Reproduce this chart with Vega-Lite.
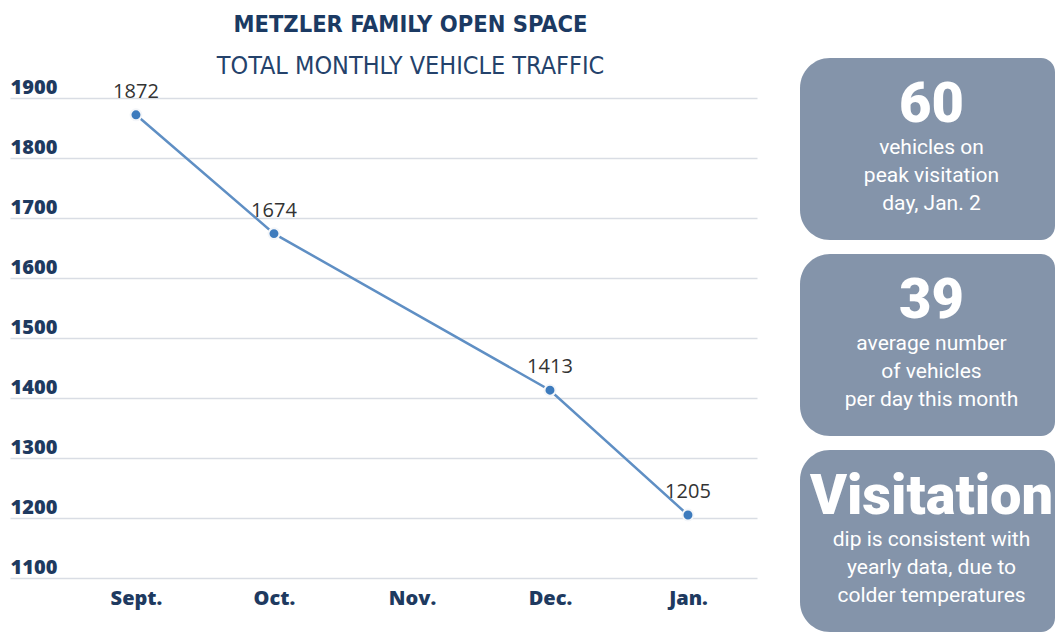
{
  "$schema": "https://vega.github.io/schema/vega-lite/v6.json",
  "padding": {"left": 10, "top": 12, "right": 0, "bottom": 0},
  "background": "white",
  "config": {"view": {"stroke": null}, "concat": {"spacing": 43}},
  "hconcat": [
    {
      "width": 747,
      "height": 520,
      "title": {
        "text": "METZLER FAMILY OPEN SPACE",
        "subtitle": "TOTAL MONTHLY VEHICLE TRAFFIC",
        "anchor": "middle",
        "dx": 27,
        "font": "DejaVu Sans Condensed",
        "fontSize": 23.5,
        "fontWeight": "bold",
        "color": "#1b3a63",
        "subtitleFont": "DejaVu Sans Condensed",
        "subtitleFontSize": 25,
        "subtitleFontWeight": "normal",
        "subtitleColor": "#24426b",
        "subtitlePadding": 18,
        "offset": -21
      },
      "data": {
        "values": [
          {"month": "Sept.", "traffic": 1872},
          {"month": "Oct.", "traffic": 1674},
          {"month": "Dec.", "traffic": 1413},
          {"month": "Jan.", "traffic": 1205}
        ]
      },
      "encoding": {
        "x": {
          "field": "month",
          "type": "ordinal",
          "sort": null,
          "scale": {"type": "point", "domain": ["Sept.", "Oct.", "Nov.", "Dec.", "Jan."], "padding": 0.7065, "align": 0.646},
          "axis": {
            "title": null, "domain": false, "ticks": false, "grid": false,
            "labelAngle": 0, "labelPadding": 10, "labelBaseline": "top",
            "labelFont": "Open Sans", "labelFontWeight": 800, "labelFontSize": 20, "labelColor": "#1e3a60"
          }
        },
        "y": {
          "field": "traffic",
          "type": "quantitative",
          "scale": {"domain": [1100, 1966.7], "nice": false, "zero": false},
          "axis": {
            "title": null, "domain": false, "ticks": false, "tickSize": 0, "format": "d",
            "values": [1100, 1200, 1300, 1400, 1500, 1600, 1700, 1800, 1900],
            "labelPadding": 0, "labelAlign": "left", "labelBaseline": "alphabetic", "labelOffset": -5,
            "labelFlush": false,
            "labelFont": "Open Sans", "labelFontWeight": 800, "labelFontSize": 20, "labelColor": "#1e3a60",
            "gridColor": "#d9dde4", "gridWidth": 1.5
          }
        }
      },
      "layer": [
        {"mark": {"type": "line", "color": "#5f8fc4", "strokeWidth": 2.5}},
        {"mark": {"type": "point", "filled": true, "fill": "#3d7bbd", "stroke": "#f4f6f9", "strokeWidth": 2, "size": 120, "opacity": 1}},
        {
          "mark": {"type": "text", "dy": -17, "baseline": "alphabetic", "font": "Open Sans", "fontSize": 20, "color": "#333333"},
          "encoding": {"text": {"field": "traffic", "type": "quantitative", "format": "d"}}
        }
      ]
    },
    {
      "width": 255,
      "height": 574,
      "data": {
        "values": [
          {"box": "a", "big": "60", "lines": ["vehicles on", "peak visitation", "day, Jan. 2"]},
          {"box": "b", "big": "39", "lines": ["average number", "of vehicles", "per day this month"]},
          {"box": "c", "big": "Visitation", "lines": ["dip is consistent with", "yearly data, due to", "colder temperatures"]}
        ]
      },
      "encoding": {
        "y": {
          "field": "box", "type": "nominal", "sort": null, "axis": null,
          "scale": {"paddingInner": 0.0714, "paddingOuter": 0}
        }
      },
      "layer": [
        {"mark": {"type": "rect", "color": "#8494aa", "cornerRadiusTopLeft": 30, "cornerRadiusBottomLeft": 30, "cornerRadiusTopRight": 14, "cornerRadiusBottomRight": 14}},
        {
          "mark": {"type": "text", "dy": -44, "dx": 4, "baseline": "middle", "font": "Roboto", "fontWeight": 900, "fontSize": 56, "color": "white"},
          "encoding": {"text": {"field": "big"}}
        },
        {
          "mark": {"type": "text", "dy": -1, "dx": 4, "baseline": "middle", "font": "Roboto", "fontSize": 21, "lineHeight": 28, "color": "white"},
          "encoding": {"text": {"field": "lines"}}
        }
      ]
    }
  ]
}
